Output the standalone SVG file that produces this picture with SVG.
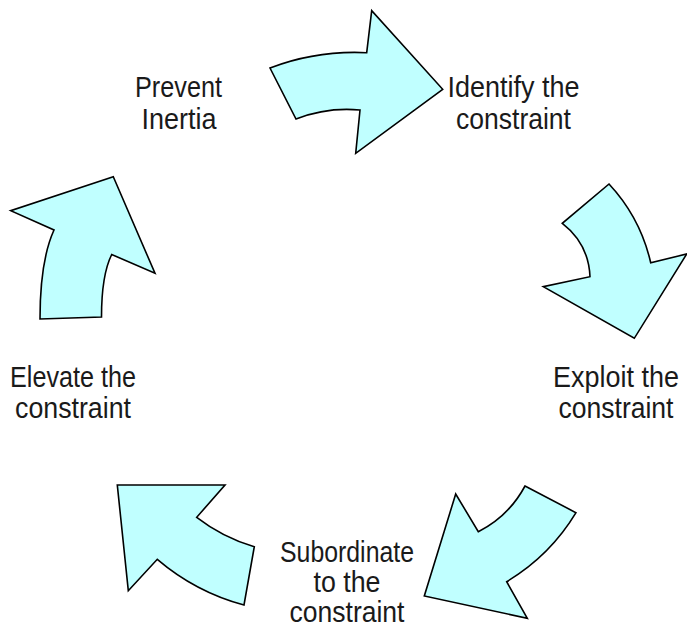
<svg xmlns="http://www.w3.org/2000/svg" width="687" height="626" viewBox="0 0 687 626">
  <style>
    .arrow { fill: #C0FFFF; stroke: #000000; stroke-width: 1.6; stroke-linejoin: miter; }
    .label { font-family: "Liberation Sans", Arial, sans-serif; font-size: 29px; fill: #1a1a1a; text-anchor: middle; }
  </style>
  <rect width="687" height="626" fill="#FFFFFF"/>

  <!-- curved block arrows forming the cycle -->
  <g id="connectors">
    <path id="arrow-top" class="arrow" d="M 270,68 Q 316.7,50.2 366.7,52.7 L 371.7,10.7 L 442.7,89.3 L 355.7,153.3 L 360,110 Q 327,106.9 296,119 Z"/>
    <path id="arrow-right" class="arrow" d="M 609,184 Q 640.4,217.7 650.7,262.7 L 686.7,254 L 634.3,338.3 L 543.3,286.7 L 590,276.7 Q 588.6,243.6 562.3,223.3 Z"/>
    <path id="arrow-bottom-right" class="arrow" d="M 525,486 L 576,512.7 Q 550,555.8 506.7,581.7 L 527.3,618.3 L 424.3,596 L 455.7,494 L 478.3,531.7 Q 508.8,516.2 525,486 Z"/>
    <path id="arrow-bottom-left" class="arrow" d="M 117.3,485 L 225,485 L 196.7,517.3 Q 222.7,537.4 254.3,546.7 L 244,605 Q 195.5,591.9 157.3,559.3 L 128.3,590.7 Z"/>
    <path id="arrow-left" class="arrow" d="M 113.3,176.7 L 155,273.3 L 111.7,254.5 C 106,266 101.5,285 101.5,317 L 40,319 C 40,285 44,252 54,230 L 10.7,210.7 Z"/>
  </g>

  <!-- step labels -->
  <g id="node-identify">
    <text class="label" x="513.5" y="97" textLength="132" lengthAdjust="spacingAndGlyphs">Identify the</text>
    <text class="label" x="513.5" y="129" textLength="115" lengthAdjust="spacingAndGlyphs">constraint</text>
  </g>
  <g id="node-exploit">
    <text class="label" x="616" y="387" textLength="126" lengthAdjust="spacingAndGlyphs">Exploit the</text>
    <text class="label" x="616" y="418" textLength="115" lengthAdjust="spacingAndGlyphs">constraint</text>
  </g>
  <g id="node-subordinate">
    <text class="label" x="347" y="562" textLength="134" lengthAdjust="spacingAndGlyphs">Subordinate</text>
    <text class="label" x="347" y="592" textLength="67" lengthAdjust="spacingAndGlyphs">to the</text>
    <text class="label" x="347" y="622" textLength="115" lengthAdjust="spacingAndGlyphs">constraint</text>
  </g>
  <g id="node-elevate">
    <text class="label" x="73" y="387" textLength="126" lengthAdjust="spacingAndGlyphs">Elevate the</text>
    <text class="label" x="73" y="418" textLength="116" lengthAdjust="spacingAndGlyphs">constraint</text>
  </g>
  <g id="node-prevent">
    <text class="label" x="178.5" y="97" textLength="87" lengthAdjust="spacingAndGlyphs">Prevent</text>
    <text class="label" x="179" y="129" textLength="75" lengthAdjust="spacingAndGlyphs">Inertia</text>
  </g>
</svg>
